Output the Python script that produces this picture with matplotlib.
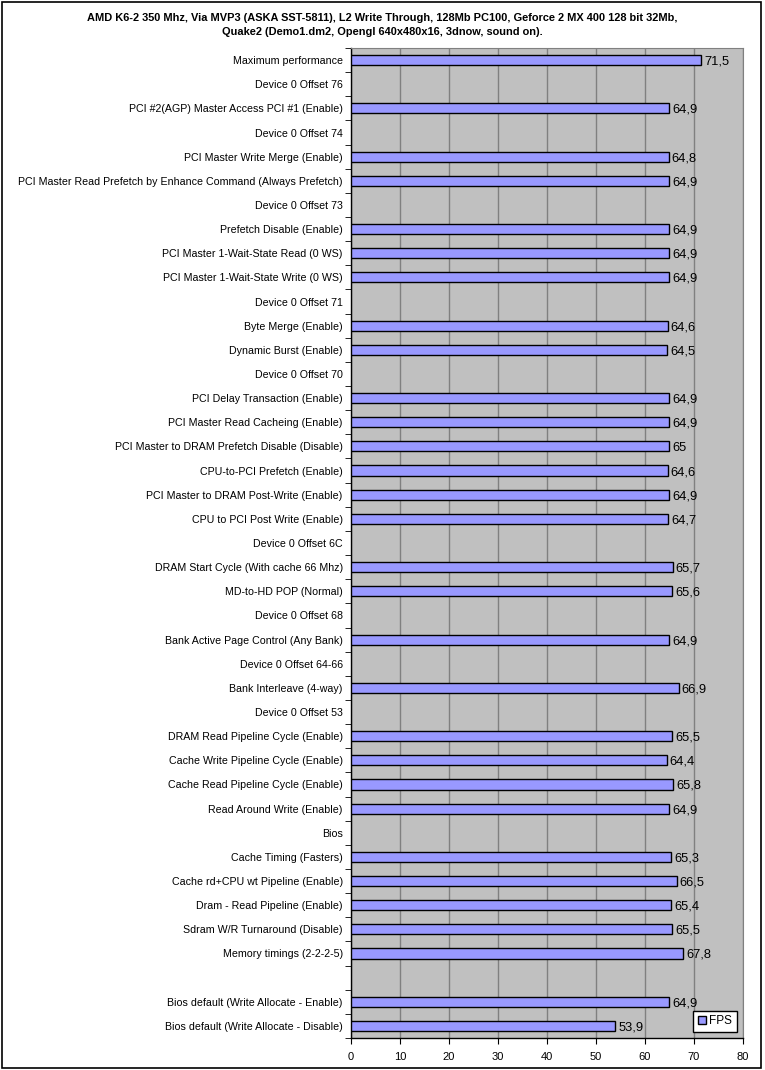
import numpy as np
import matplotlib.pyplot as plt
from matplotlib.patches import Rectangle

plt.rcParams['font.family'] = ['Liberation Sans', 'DejaVu Sans']

categories = [
    "Maximum performance",
    "Device 0 Offset 76",
    "PCI #2(AGP) Master Access PCI #1 (Enable)",
    "Device 0 Offset 74",
    "PCI Master Write Merge (Enable)",
    "PCI Master Read Prefetch by Enhance Command (Always Prefetch)",
    "Device 0 Offset 73",
    "Prefetch Disable (Enable)",
    "PCI Master 1-Wait-State Read (0 WS)",
    "PCI Master 1-Wait-State Write (0 WS)",
    "Device 0 Offset 71",
    "Byte Merge (Enable)",
    "Dynamic Burst (Enable)",
    "Device 0 Offset 70",
    "PCI Delay Transaction (Enable)",
    "PCI Master Read Cacheing (Enable)",
    "PCI Master to DRAM Prefetch Disable (Disable)",
    "CPU-to-PCI Prefetch (Enable)",
    "PCI Master to DRAM Post-Write (Enable)",
    "CPU to PCI Post Write (Enable)",
    "Device 0 Offset 6C",
    "DRAM Start Cycle (With cache 66 Mhz)",
    "MD-to-HD POP (Normal)",
    "Device 0 Offset 68",
    "Bank Active Page Control (Any Bank)",
    "Device 0 Offset 64-66",
    "Bank Interleave (4-way)",
    "Device 0 Offset 53",
    "DRAM Read Pipeline Cycle (Enable)",
    "Cache Write Pipeline Cycle (Enable)",
    "Cache Read Pipeline Cycle (Enable)",
    "Read Around Write (Enable)",
    "Bios",
    "Cache Timing (Fasters)",
    "Cache rd+CPU wt Pipeline (Enable)",
    "Dram - Read Pipeline (Enable)",
    "Sdram W/R Turnaround (Disable)",
    "Memory timings (2-2-2-5)",
    "",
    "Bios default (Write Allocate - Enable)",
    "Bios default (Write Allocate - Disable)",
]

# None = header row without a bar
fps = [71.5, None, 64.9, None, 64.8, 64.9, None, 64.9, 64.9, 64.9, None,
       64.6, 64.5, None, 64.9, 64.9, 65.0, 64.6, 64.9, 64.7, None,
       65.7, 65.6, None, 64.9, None, 66.9, None, 65.5, 64.4, 65.8, 64.9,
       None, 65.3, 66.5, 65.4, 65.5, 67.8, None, 64.9, 53.9]

title = ("AMD K6-2 350 Mhz, Via MVP3 (ASKA SST-5811), L2 Write Through, 128Mb PC100, "
         "Geforce 2 MX 400 128 bit 32Mb,\nQuake2 (Demo1.dm2, Opengl 640x480x16, 3dnow, sound on).")

fig = plt.figure(figsize=(7.65, 10.7), dpi=100)
fig.patches.append(Rectangle((0.002, 0.002), 0.993, 0.996, transform=fig.transFigure,
                             fill=False, edgecolor='black', linewidth=1.2))
ax = fig.add_axes([351/765, 1 - 1038/1070, 392/765, 990/1070])
ax.set_facecolor('#C0C0C0')

n = len(categories)
ypos = np.arange(n)
vals = [v if v is not None else 0 for v in fps]
mask = [v is not None for v in fps]
yb = ypos[mask]
vb = np.array(vals)[mask]
bars = ax.barh(yb, vb, height=0.42, color='#9999FF', edgecolor='black', linewidth=1, zorder=3)
for y, v in zip(yb, vb):
    lab = ('%g' % v).replace('.', ',')
    ax.text(v + 0.6, y, lab, va='center_baseline', ha='left', fontsize=9.3, zorder=4)

ax.set_xlim(0, 80)
ax.set_ylim(n - 0.5, -0.5)
ax.set_xticks(range(0, 81, 10))
ax.xaxis.grid(True, color='#808080', linewidth=1, zorder=0)
ax.set_axisbelow(True)
ax.set_yticks(ypos)
ax.set_yticklabels(categories, fontsize=7.7)
ax.set_yticks(np.arange(-0.5, n, 1), minor=True)
ax.tick_params(axis='y', which='major', length=0, pad=6)
ax.tick_params(axis='y', which='minor', length=4, direction='out', color='black')
ax.tick_params(axis='x', length=4, direction='out', labelsize=8, pad=6)
for s in ['top', 'right']:
    ax.spines[s].set_color('#808080')
for s in ['left', 'bottom']:
    ax.spines[s].set_color('black')
    ax.spines[s].set_linewidth(1)

leg = ax.legend([bars], ['FPS'], loc='lower right', fontsize=8.5, frameon=True, fancybox=False,
                edgecolor='black', framealpha=1, handlelength=0.7, handleheight=0.7,
                handletextpad=0.3, borderpad=0.4, bbox_to_anchor=(1.0, 0.0))
leg.get_frame().set_linewidth(1)

fig.text(0.5, 1 - 13/1070, title, ha='center', va='top', fontsize=7.9, fontweight='bold',
         linespacing=1.55)

plt.savefig('out.png', dpi=100)
